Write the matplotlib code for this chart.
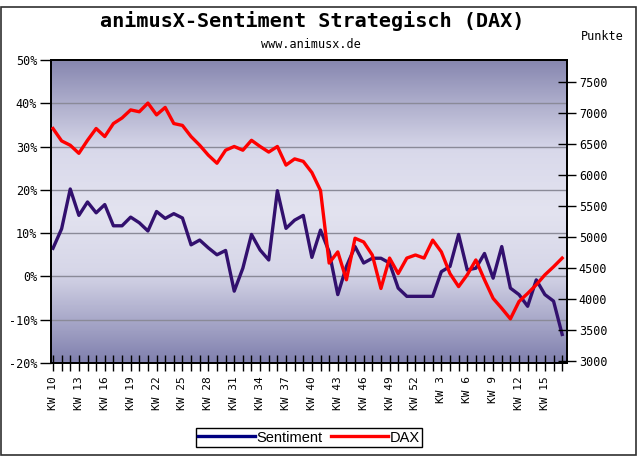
import numpy as np
import matplotlib
matplotlib.use('Agg')
from matplotlib import pyplot as plt
from matplotlib.colors import LinearSegmentedColormap
from matplotlib.patches import Rectangle

# calendar weeks, KW 10 (2008) .. KW 17 (2009)
weeks = list(range(10, 53)) + list(range(1, 18))

# sentiment in percent
sentiment = [6.5, 11.0, 20.2, 14.1, 17.2, 14.7, 16.6, 11.7, 11.7, 13.7,
             12.4, 10.5, 15.0, 13.4, 14.5, 13.5, 7.3, 8.4, 6.6, 5.0,
             6.0, -3.4, 1.9, 9.7, 6.1, 3.8, 19.8, 11.1, 13.0, 14.1,
             4.4, 10.7, 5.7, -4.2, 2.3, 6.9, 3.1, 4.2, 4.2, 3.1,
             -2.7, -4.6, -4.6, -4.6, -4.6, 1.1, 2.3, 9.7, 1.5, 1.9,
             5.3, -0.4, 6.9, -2.7, -4.2, -6.9, -0.8, -4.2, -5.7, -13.4]

# DAX in Punkte
dax = [6750, 6550, 6480, 6350, 6560, 6750, 6620, 6830, 6920, 7050,
       7020, 7160, 6970, 7090, 6830, 6800, 6620, 6480, 6320, 6190,
       6400, 6460, 6400, 6560, 6460, 6370, 6460, 6160, 6260, 6220,
       6040, 5750, 4580, 4760, 4310, 4980, 4920, 4710, 4170, 4660,
       4410, 4660, 4710, 4660, 4950, 4760, 4410, 4200, 4390, 4630,
       4310, 4010, 3850, 3680, 3960, 4090, 4230, 4390, 4520, 4660]

pct_ticks = [-20, -10, 0, 10, 20, 30, 40, 50]
dax_ticks = [3000, 3500, 4000, 4500, 5000, 5500, 6000, 6500, 7000, 7500]

W, H = 644, 470
mono = 'DejaVu Sans Mono'

fig = plt.figure(figsize=(W / 100, H / 100), dpi=100)
fig.patch.set_facecolor('white')
ax = fig.add_axes([51 / W, 1 - 363 / H, (567 - 51) / W, (363 - 60) / H])

x = np.arange(len(weeks))
xlim = (-0.23, 59.56)

# background gradient of plot area
bg = LinearSegmentedColormap.from_list('bg', [
    (0.0, (0.53, 0.53, 0.69)),
    (0.3, (0.85, 0.85, 0.92)),
    (0.5, (0.89, 0.89, 0.94)),
    (0.7, (0.84, 0.84, 0.91)),
    (1.0, (0.50, 0.50, 0.68))])
grad = np.linspace(0, 1, 256)[:, None]
ax.imshow(grad, extent=(xlim[0], xlim[1], -20, 50), aspect='auto',
          cmap=bg, origin='upper', zorder=-1)

ax.plot(x, sentiment, color='#32106e', lw=2.4, zorder=3, label='Sentiment')
ax.set_xlim(*xlim)
ax.set_ylim(-20, 50)
ax.set_yticks(pct_ticks)
ax.set_yticklabels([f'{t}%' for t in pct_ticks], family=mono, fontsize=8.5)
ax.yaxis.grid(True, color='#8a8a98', lw=1)
ax.tick_params(axis='y', direction='out', length=8, width=1, pad=2)

ax.set_xticks(x[::3])
ax.set_xticklabels([f'KW {w}' for w in weeks[::3]], rotation=90,
                   family=mono, fontsize=8)
ax.set_xticks(x, minor=True)
ax.tick_params(axis='x', which='both', direction='inout', length=11, width=1,
               pad=4)

ax2 = ax.twinx()
ax2.plot(x, dax, color='#ff0000', lw=2.4, zorder=3, label='DAX')
ax2.set_xlim(*xlim)
ax2.set_ylim(2968, 7855)
ax2.set_yticks(dax_ticks)
ax2.set_yticklabels([str(t) for t in dax_ticks], family=mono, fontsize=8.5)
ax2.tick_params(axis='y', direction='inout', length=13, width=1, pad=2)

for a in (ax, ax2):
    for s in a.spines.values():
        s.set_linewidth(1.3)
        s.set_color('black')

fig.text(312 / W, 1 - 21 / H, 'animusX-Sentiment Strategisch (DAX)',
         family=mono, fontweight='bold', fontsize=14.5, ha='center', va='center')
fig.text(311 / W, 1 - 45 / H, 'www.animusx.de', family=mono, fontsize=8.5,
         ha='center', va='center')
fig.text(602 / W, 1 - 37 / H, 'Punkte', family=mono, fontsize=8.5,
         ha='center', va='center')

h1, l1 = ax.get_legend_handles_labels()
h2, l2 = ax2.get_legend_handles_labels()
leg = fig.legend(h1 + h2, l1 + l2, loc='center', ncol=2,
                 bbox_to_anchor=(309 / W, 1 - 437.5 / H),
                 prop={'family': 'Liberation Sans', 'size': 10.5},
                 frameon=True, fancybox=False, edgecolor='black',
                 framealpha=1, borderpad=0.15, handlelength=3.9,
                 handletextpad=0.1, columnspacing=0.6)
leg.get_frame().set_linewidth(1)
leg.legend_handles[0].set_color('#000080')

fig.add_artist(Rectangle((1 / W, 1 - 455 / H), 635 / W, 448 / H,
                         transform=fig.transFigure, fill=False,
                         ec='#303030', lw=1.2))

fig.savefig('out.png', dpi=100)
